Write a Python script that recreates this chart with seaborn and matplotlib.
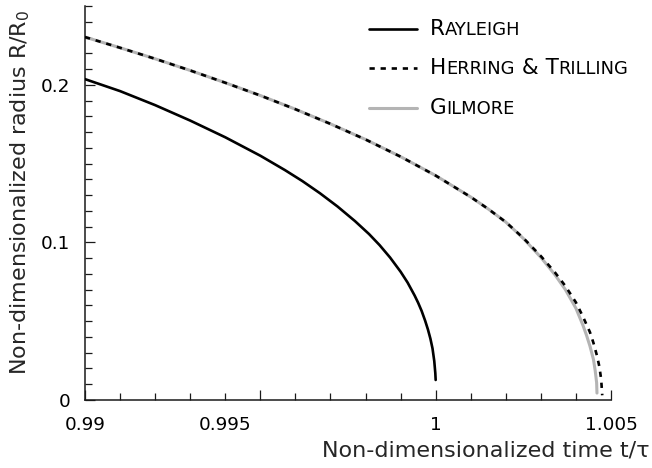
import matplotlib
matplotlib.use("Agg")
import matplotlib.pyplot as plt
import seaborn as sns
import pandas as pd
from matplotlib.ticker import FixedLocator, FixedFormatter
from matplotlib.offsetbox import TextArea, HPacker, VPacker, DrawingArea, AnchoredOffsetbox
from matplotlib.lines import Line2D
from matplotlib.transforms import ScaledTranslation

# ---- data ----
rayleigh_t = [0.9900, 0.9910, 0.9920, 0.9930, 0.9940, 0.9950, 0.9957, 0.9962, 0.9967,
              0.9972, 0.9977, 0.9981, 0.9984, 0.9987, 0.9990, 0.9992, 0.9994, 0.9995,
              0.9996, 0.9997, 0.99978, 0.99985, 0.99991, 0.99996, 0.99999, 1.0000]
rayleigh_r = [0.2036, 0.1960, 0.1871, 0.1773, 0.1667, 0.1550, 0.1459, 0.1389, 0.1312,
              0.1228, 0.1135, 0.1053, 0.0983, 0.0904, 0.0814, 0.0745, 0.0663, 0.0617,
              0.0565, 0.0503, 0.0447, 0.0389, 0.0327, 0.0247, 0.0170, 0.0127]

ht_t = [0.9900, 0.9910, 0.9920, 0.9930, 0.9940, 0.9950, 0.9960, 0.9970, 0.9980, 0.9990,
        1.0000, 1.0010, 1.0015, 1.0020, 1.0025, 1.0030, 1.0034, 1.0037, 1.0040, 1.0042,
        1.0044, 1.0045, 1.0046, 1.00467, 1.00472, 1.00475]
ht_r = [0.2303, 0.2235, 0.2165, 0.2091, 0.2013, 0.1932, 0.1845, 0.1752, 0.1653, 0.1544,
        0.1424, 0.1288, 0.1212, 0.1129, 0.1028, 0.0913, 0.0810, 0.0723, 0.0619, 0.0529,
        0.0430, 0.0362, 0.0281, 0.0210, 0.0130, 0.0030]

gil_t = [0.9900, 0.9910, 0.9920, 0.9930, 0.9940, 0.9950, 0.9960, 0.9970, 0.9980, 0.9990,
         1.0000, 1.0010, 1.0015, 1.0020, 1.0025, 1.0030, 1.0034, 1.0037, 1.0040, 1.0042,
         1.0043, 1.0044, 1.0045, 1.00455, 1.00459, 1.00460]
gil_r = [0.2303, 0.2235, 0.2165, 0.2091, 0.2013, 0.1932, 0.1845, 0.1752, 0.1653, 0.1544,
         0.1424, 0.1288, 0.1212, 0.1129, 0.1025, 0.0905, 0.0795, 0.0700, 0.0582, 0.0474,
         0.0412, 0.0342, 0.0257, 0.0185, 0.0110, 0.0044]

x_major = [0.99, 0.995, 1.0, 1.005]
x_major_labels = ["0.99", "0.995", "1", "1.005"]
x_minor = [0.991, 0.992, 0.993, 0.994, 0.996, 0.997, 0.998, 0.999,
           1.001, 1.002, 1.003, 1.004]
y_major = [0.0, 0.1, 0.2]
y_major_labels = ["0", "0.1", "0.2"]
y_minor = [0.01, 0.02, 0.03, 0.04, 0.05, 0.06, 0.07, 0.08, 0.09,
           0.11, 0.12, 0.13, 0.14, 0.15, 0.16, 0.17, 0.18, 0.19,
           0.21, 0.22, 0.23, 0.24, 0.25]

# legend labels as small-caps pieces: (text, is_capital)
legend_labels = [
    [("R", True), ("AYLEIGH", False)],
    [("H", True), ("ERRING", False), (" & T", True), ("RILLING", False)],
    [("G", True), ("ILMORE", False)],
]

# ---- figure ----
sns.set_style("ticks")
plt.rcParams["font.family"] = ["DejaVu Sans"]

fig = plt.figure(figsize=(6.52, 4.68), dpi=100)
ax = fig.add_axes([85 / 652, 1 - 400 / 468, 526 / 652, 394 / 468])

df_r = pd.DataFrame({"t": rayleigh_t, "R": rayleigh_r})
df_h = pd.DataFrame({"t": ht_t, "R": ht_r})
df_g = pd.DataFrame({"t": gil_t, "R": gil_r})

GRAY = "#b4b4b4"
sns.lineplot(data=df_g, x="t", y="R", ax=ax, color=GRAY, linewidth=2.2,
             estimator=None, sort=False, zorder=2)
sns.lineplot(data=df_h, x="t", y="R", ax=ax, color="black", linewidth=1.9,
             estimator=None, sort=False, zorder=3)
ax.lines[-1].set_dashes((2.0, 2.2))
sns.lineplot(data=df_r, x="t", y="R", ax=ax, color="black", linewidth=1.9,
             estimator=None, sort=False, zorder=3)

ax.set_xlim(0.99, 1.005)
ax.set_ylim(0.0, 0.25)

sns.despine(ax=ax)
for s in ("left", "bottom"):
    ax.spines[s].set_color("#1a1a1a")
    ax.spines[s].set_linewidth(1.1)

ax.xaxis.set_major_locator(FixedLocator(x_major))
ax.xaxis.set_major_formatter(FixedFormatter(x_major_labels))
ax.xaxis.set_minor_locator(FixedLocator(x_minor))
ax.yaxis.set_major_locator(FixedLocator(y_major))
ax.yaxis.set_major_formatter(FixedFormatter(y_major_labels))
ax.yaxis.set_minor_locator(FixedLocator(y_minor))

ax.tick_params(which="major", direction="in", length=7.5, width=0.9, color="#1a1a1a",
               labelsize=13.3, labelcolor="black")
ax.tick_params(which="minor", direction="in", length=5.0, width=0.9, color="#1a1a1a")
ax.tick_params(axis="x", which="major", pad=11.5)
ax.tick_params(axis="y", which="major", pad=10.5)

ax.set_xlabel("Non-dimensionalized time t/\u03c4", fontsize=16, ha="right", va="top")
ax.xaxis.set_label_coords((650 - 85) / 526, -0.103)
ax.set_ylabel("Non-dimensionalized radius R/R$_\\mathregular{0}$", fontsize=16)
ax.yaxis.set_label_coords(-0.1, 0.527)

# the reference draws the "0.995" label left of its tick
fig.canvas.draw()
for tick in ax.xaxis.get_major_ticks():
    if tick.label1.get_text() == "0.995":
        tick.label1.set_transform(tick.label1.get_transform()
                                  + ScaledTranslation(-0.35, 0, fig.dpi_scale_trans))

# ---- legend with small caps labels ----
rows = []
styles = [dict(color="black", lw=1.9, dashes=None),
          dict(color="black", lw=1.9, dashes=(2.0, 2.2)),
          dict(color=GRAY, lw=2.2, dashes=None)]
for i in range(3):
    da = DrawingArea(34.5, 12, 0, 0)
    st = styles[i]
    ln = Line2D([0, 34.5], [6, 6], color=st["color"], linewidth=st["lw"])
    if st["dashes"]:
        ln.set_dashes(st["dashes"])
    da.add_artist(ln)
    parts = [TextArea(txt, textprops=dict(size=15.5 if cap else 12.9, color="black"))
             for txt, cap in legend_labels[i]]
    txtbox = HPacker(children=parts, align="baseline", pad=0, sep=0)
    rows.append(HPacker(children=[da, txtbox], align="center", pad=0, sep=9.4))
vp = VPacker(children=rows, align="left", pad=0, sep=14.0)
ab = AnchoredOffsetbox(loc="upper left", child=vp, pad=0, borderpad=0, frameon=False,
                       bbox_to_anchor=(369 / 652, 1 - 19 / 468),
                       bbox_transform=fig.transFigure)
ax.add_artist(ab)

fig.savefig("out.png", dpi=100)
